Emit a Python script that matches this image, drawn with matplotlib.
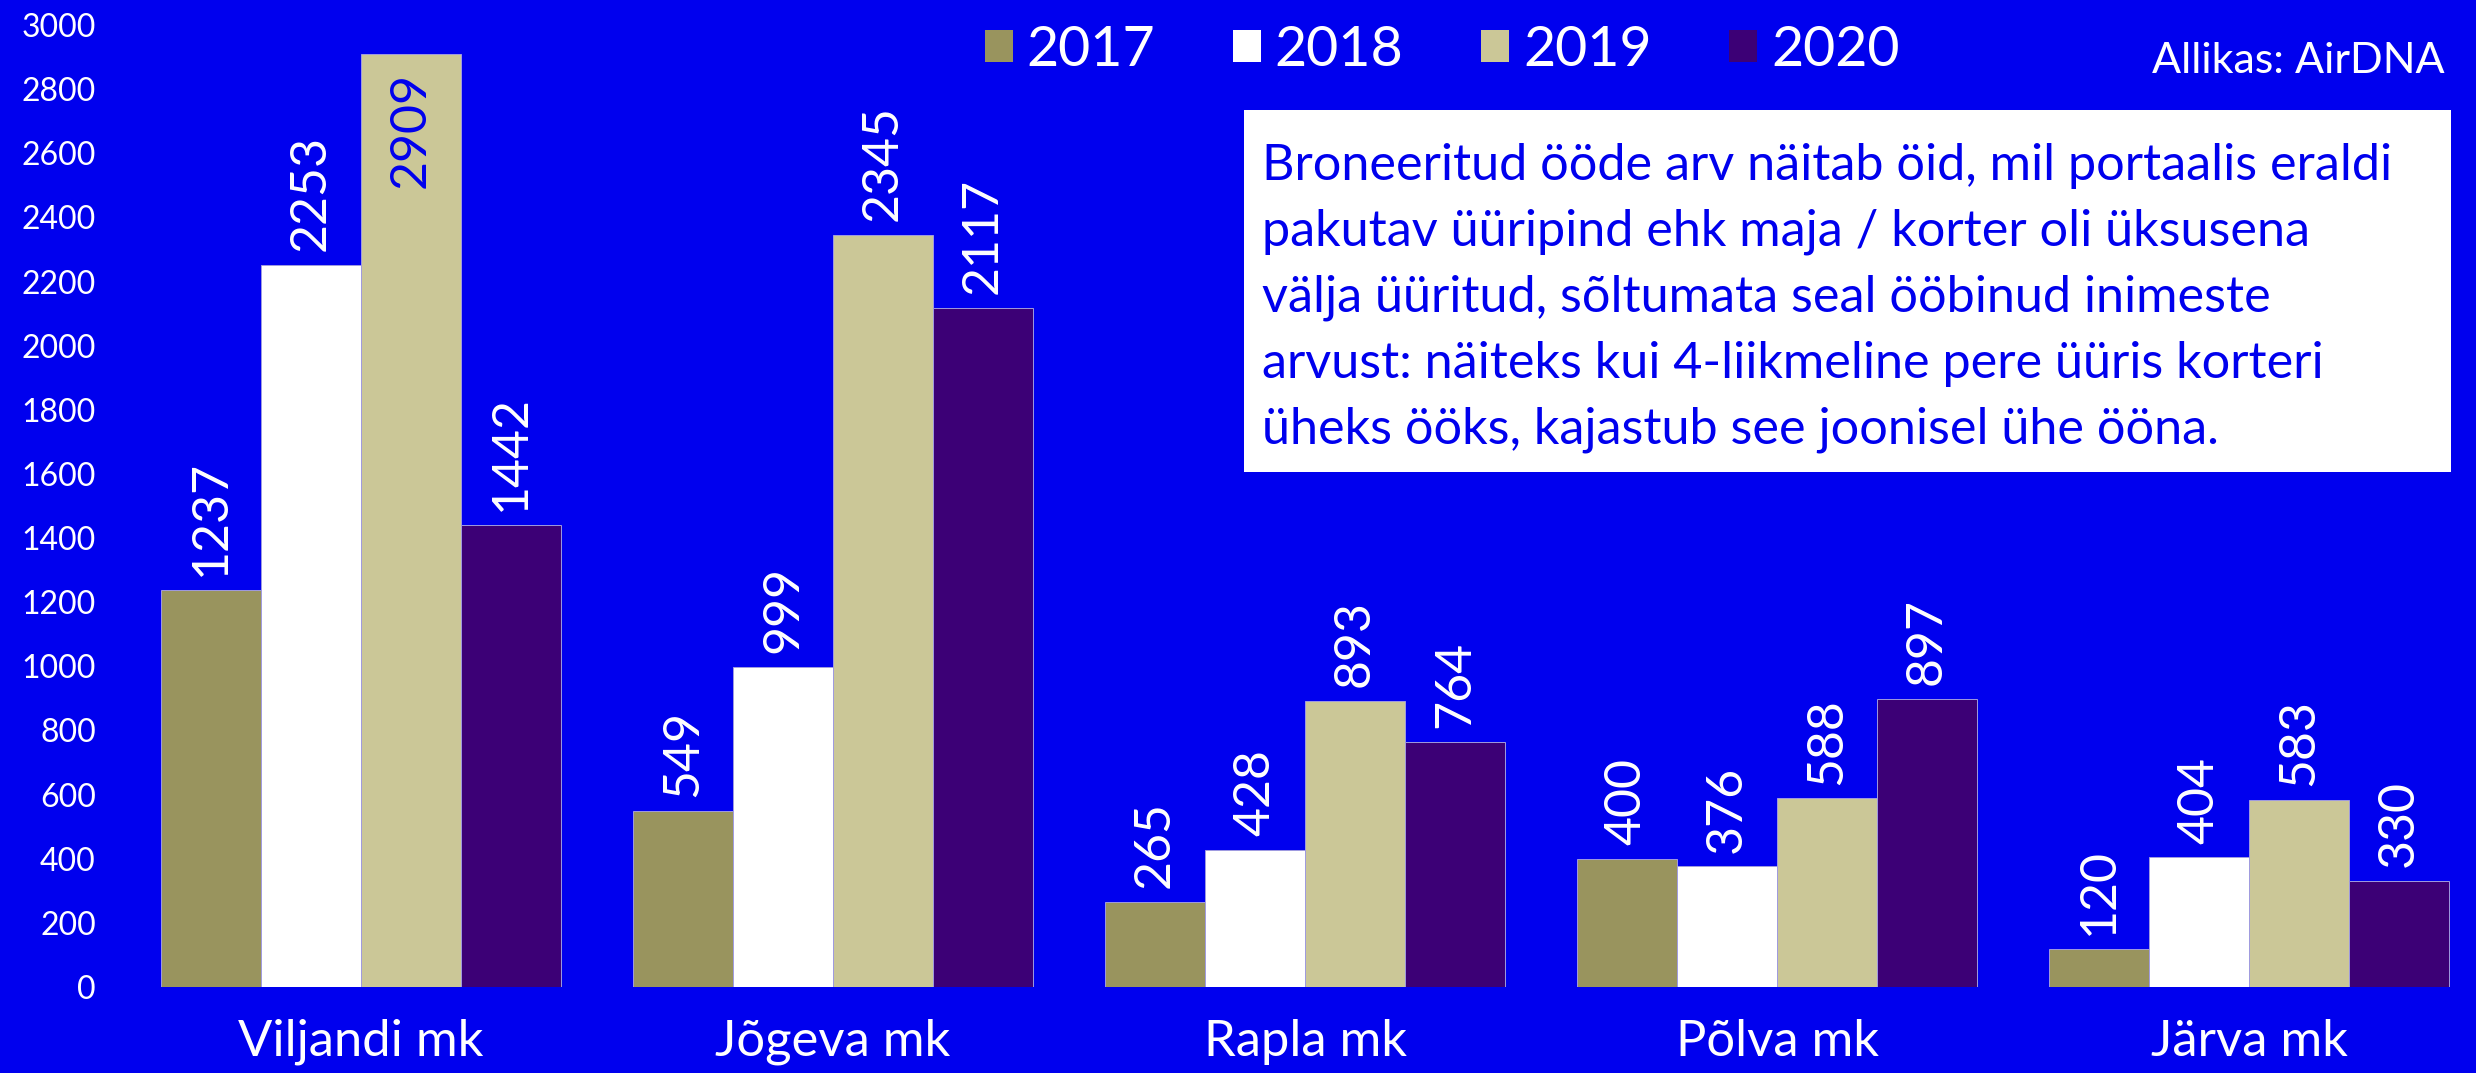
import numpy as np
import matplotlib.pyplot as plt
from matplotlib.patches import Patch, Rectangle

plt.rcParams['font.family'] = ['Lato', 'DejaVu Sans']

# data
regions = ['Viljandi mk', 'Jõgeva mk', 'Rapla mk', 'Põlva mk', 'Järva mk']
years = ['2017', '2018', '2019', '2020']
v2017 = [1237, 549, 265, 400, 120]
v2018 = [2253, 999, 428, 376, 404]
v2019 = [2909, 2345, 893, 588, 583]
v2020 = [1442, 2117, 764, 897, 330]
series = [v2017, v2018, v2019, v2020]
colors = ['#99945E', '#FFFFFF', '#CBC797', '#3C0076']
y_ticks = np.arange(0, 3001, 200)

note = ("Broneeritud ööde arv näitab öid, mil portaalis eraldi\n"
        "pakutav üüripind ehk maja / korter oli üksusena\n"
        "välja üüritud, sõltumata seal ööbinud inimeste\n"
        "arvust: näiteks kui 4-liikmeline pere üüris korteri\n"
        "üheks ööks, kajastub see joonisel ühe ööna.")
source = 'Allikas: AirDNA'

BG = '#0000EE'
W, H = 2476, 1073

fig = plt.figure(figsize=(W/100, H/100), dpi=100, facecolor=BG)
ax = fig.add_axes([125/W, (H-987)/H, 2360/W, (987-25)/H])
ax.set_facecolor(BG)

x = np.arange(len(regions))
bw = 0.212
for i, (vals, c) in enumerate(zip(series, colors)):
    pos = x + (i - 1.5)*bw
    ax.bar(pos, vals, width=bw, color=c, edgecolor='#A09BE0', linewidth=0.7)
    for px, v in zip(pos, vals):
        if v > 2800:
            # no room above: label goes inside the bar
            ax.annotate(str(v), (px, v), xytext=(0, -13), textcoords='offset points',
                        rotation=90, ha='center', va='top', fontsize=36, color=BG)
        else:
            ax.annotate(str(v), (px, v), xytext=(0, 10), textcoords='offset points',
                        rotation=90, ha='center', va='bottom', fontsize=36, color='white')

ax.set_xlim(-0.5, len(regions) - 0.5)
ax.set_ylim(0, 3000)
ax.set_yticks(y_ticks)
ax.set_xticks(x)
ax.set_xticklabels(regions)
ax.tick_params(axis='y', length=0, pad=21, labelsize=23, labelcolor='white')
ax.tick_params(axis='x', length=0, pad=23, labelsize=36.5, labelcolor='white')
for s in ax.spines.values():
    s.set_visible(False)

# legend
handles = [Patch(facecolor=c, edgecolor='none') for c in colors]
fig.legend(handles, years, loc='center left', bbox_to_anchor=(985/W, 1 - 50/H),
           ncol=4, frameon=False, fontsize=40, labelcolor='white',
           handlelength=0.5, handleheight=0.5, handletextpad=0.25,
           columnspacing=1.4, borderpad=0, borderaxespad=0)

fig.text(2445/W, 1 - 73/H, source, ha='right', va='baseline', fontsize=31, color='white')

# note box
fig.patches.append(Rectangle((1244/W, 1 - 472/H), (2451-1244)/W, (472-110)/H,
                             transform=fig.transFigure, facecolor='white',
                             edgecolor='none', zorder=5))
fig.text(1262/W, 1 - 298/H, note, ha='left', va='center', fontsize=36.3,
         color=BG, linespacing=1.53, zorder=6)

fig.savefig('out.png', dpi=100, facecolor=BG)
